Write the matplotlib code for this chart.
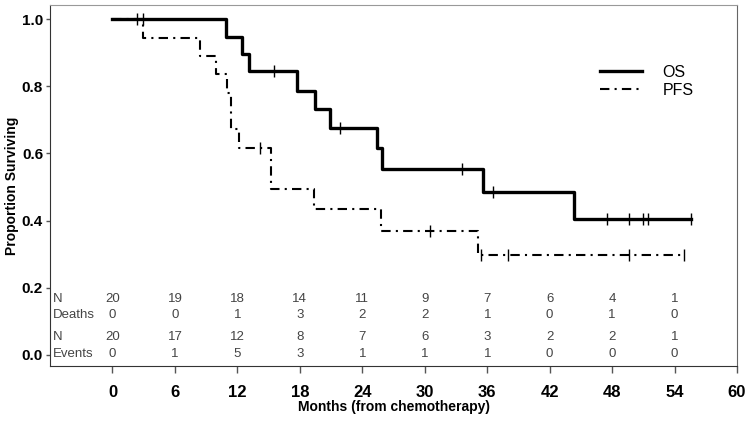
import matplotlib
matplotlib.use("Agg")
import matplotlib.pyplot as plt
import numpy as np

plt.rcParams['font.family'] = ['Liberation Sans', 'DejaVu Sans']

# OS curve (step points)
os_t = [0, 10.9, 12.4, 13.1, 17.7, 19.5, 20.9, 25.4, 25.9, 35.6, 44.3, 55.6]
os_s = [1.0, 0.947, 0.895, 0.845, 0.787, 0.731, 0.675, 0.617, 0.553, 0.486, 0.405, 0.405]
os_cens = [2.4, 2.9, 15.5, 21.9, 33.6, 36.6, 47.5, 49.6, 51.0, 51.4, 55.6]

# PFS curve
pfs_t = [0, 2.94, 8.4, 9.9, 11.0, 11.35, 12.2, 15.2, 19.4, 25.8, 35.1, 54.9]
pfs_s = [1.0, 0.945, 0.89, 0.836, 0.78, 0.672, 0.617, 0.494, 0.434, 0.370, 0.298, 0.298]
pfs_cens = [14.2, 30.5, 35.4, 37.95, 49.6, 54.9]

# numbers at risk table
tab_x = [0, 6, 12, 18, 24, 30, 36, 42, 48, 54]
os_n = [20, 19, 18, 14, 11, 9, 7, 6, 4, 1]
os_deaths = [0, 0, 1, 3, 2, 2, 1, 0, 1, 0]
pfs_n = [20, 17, 12, 8, 7, 6, 3, 2, 2, 1]
pfs_events = [0, 1, 5, 3, 1, 1, 1, 0, 0, 0]
row_labels = ['N', 'Deaths', 'N', 'Events']


def surv_at(t, times, surv):
    idx = np.searchsorted(times, t, side='right') - 1
    return np.array(surv)[idx]


fig = plt.figure(figsize=(7.5, 4.22), dpi=100)
ax = fig.add_axes([0.0667, 0.1327, 0.916, 0.8553])

ax.step(os_t, os_s, where='post', color='black', lw=2.4, label='OS')
ax.step(pfs_t, pfs_s, where='post', color='black', lw=1.5,
        linestyle=(0, (4.5, 2.5, 1, 2.5)), label='PFS')
ax.plot(os_cens, surv_at(os_cens, os_t, os_s), linestyle='none', marker='|',
        color='black', markersize=8, mew=1)
ax.plot(pfs_cens, surv_at(pfs_cens, pfs_t, pfs_s), linestyle='none', marker='|',
        color='black', markersize=8, mew=1)

# at-risk table inside the axes
rows = [os_n, os_deaths, pfs_n, pfs_events]
row_y = [0.168, 0.118, 0.053, 0.003]
for lab, vals, yy in zip(row_labels, rows, row_y):
    ax.text(-5.7, yy, lab, fontsize=9.5, color='#444444', va='center', ha='left')
    for xx, v in zip(tab_x, vals):
        ax.text(xx, yy, str(v), fontsize=9.5, color='#444444', va='center', ha='center')

ax.set_xlim(-6, 60)
ax.set_ylim(-0.033, 1.042)
ax.set_xticks(range(0, 61, 6))
ax.set_yticks([0.0, 0.2, 0.4, 0.6, 0.8, 1.0])
ax.set_yticklabels(['0.0', '0.2', '0.4', '0.6', '0.8', '1.0'])
ax.tick_params(axis='x', direction='out', length=5, width=1, color='#555555',
               labelsize=12, pad=9)
ax.tick_params(axis='y', direction='out', length=3, width=1, color='#555555',
               labelsize=11, pad=2)
for lab in ax.get_xticklabels() + ax.get_yticklabels():
    lab.set_fontweight('bold')

ax.spines['top'].set_color('#999999')
ax.spines['right'].set_color('#666666')
ax.spines['left'].set_color('#333333')
ax.spines['bottom'].set_color('#333333')

ax.set_xlabel('Months (from chemotherapy)', fontsize=10, fontweight='bold', labelpad=0)
ax.set_ylabel('Proportion Surviving', fontsize=10, fontweight='bold', labelpad=2)

ax.legend(loc='upper left', bbox_to_anchor=(0.78, 0.875), frameon=False,
          fontsize=11.5, handlelength=2.6, handletextpad=1.3, labelspacing=0.2)

fig.savefig('out.png', dpi=100)
